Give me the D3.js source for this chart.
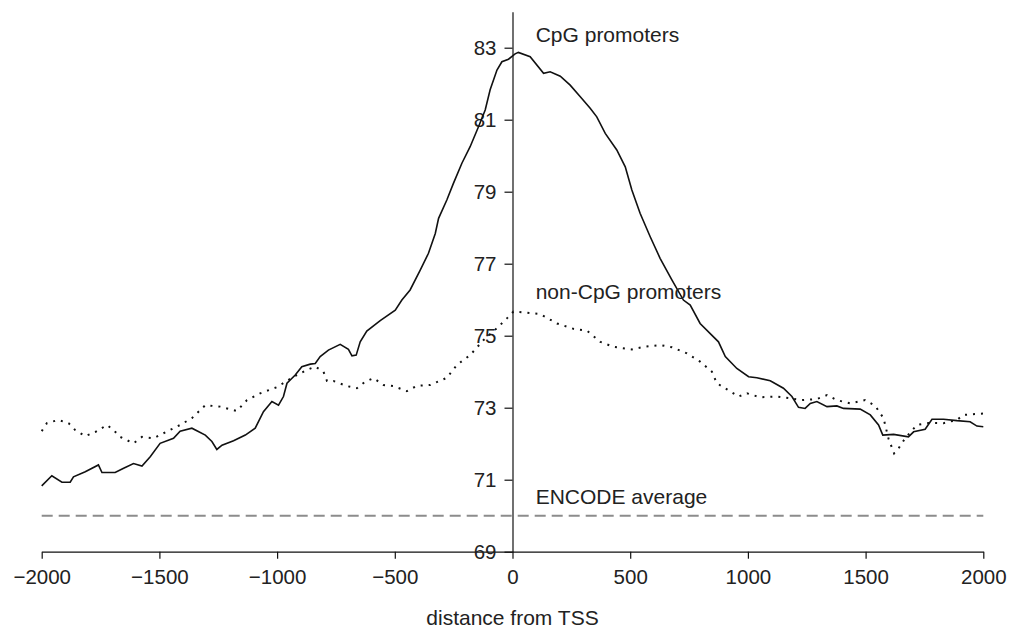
<!DOCTYPE html>
<html>
<head>
<meta charset="utf-8">
<script src="https://cdn.jsdelivr.net/npm/d3@7"></script>
<style>
  html, body { margin: 0; padding: 0; background: #fff; }
  svg { display: block; }
  text { font-family: "Liberation Sans", Arial, Helvetica, sans-serif; fill: #222; }
</style>
</head>
<body>
<svg id="chart" width="1009" height="631"></svg>
<script>
// Distance from the TSS (bp) and the average value at each position
const cpgPos = [-2000,-1957,-1914,-1879,-1865,-1815,-1759,-1744,-1688,-1652,-1610,-1574,-1539,-1497,-1440,-1412,-1362,-1305,-1277,-1256,-1234,-1185,-1135,-1093,-1058,-1022,-994,-973,-958,-923,-895,-859,-838,-817,-782,-732,-697,-682,-664,-647,-619,-562,-498,-470,-435,-392,-357,-328,-314,-279,-251,-215,-180,-144,-116,-95,-66,-45,-17,11,25,75,132,160,203,245,288,330,358,394,443,479,507,542,585,627,677,726,755,797,875,904,953,1003,1038,1095,1151,1187,1215,1243,1265,1293,1336,1378,1406,1477,1520,1555,1573,1619,1682,1704,1753,1782,1831,1888,1944,1973,2000];
const cpgVal = [70.83,71.11,70.93,70.93,71.08,71.22,71.41,71.20,71.20,71.32,71.45,71.38,71.64,72.01,72.15,72.35,72.43,72.24,72.06,71.84,71.96,72.08,72.24,72.43,72.89,73.17,73.07,73.31,73.68,73.91,74.14,74.21,74.23,74.42,74.60,74.76,74.62,74.44,74.46,74.83,75.13,75.42,75.71,75.99,76.27,76.82,77.29,77.84,78.26,78.77,79.23,79.79,80.25,80.81,81.27,81.83,82.38,82.61,82.68,82.83,82.87,82.75,82.29,82.33,82.21,81.96,81.64,81.32,81.08,80.62,80.16,79.69,79.05,78.40,77.75,77.15,76.55,75.99,75.85,75.34,74.83,74.42,74.09,73.86,73.83,73.75,73.54,73.31,73.01,72.98,73.12,73.17,73.03,73.05,72.98,72.96,72.80,72.52,72.24,72.26,72.19,72.33,72.40,72.68,72.68,72.64,72.61,72.49,72.47];

const nonCpgPos = [-2000,-1978,-1929,-1886,-1858,-1815,-1773,-1723,-1695,-1667,-1610,-1574,-1525,-1483,-1412,-1362,-1305,-1242,-1171,-1128,-1072,-1001,-930,-873,-838,-803,-788,-760,-703,-661,-626,-590,-548,-506,-449,-406,-350,-279,-236,-180,-123,-66,-24,4,61,118,189,259,316,373,429,507,557,627,677,741,797,847,868,911,960,996,1052,1123,1180,1229,1293,1336,1378,1435,1498,1541,1576,1597,1621,1640,1668,1718,1774,1831,1888,1916,2000];
const nonCpgVal = [72.35,72.57,72.66,72.57,72.38,72.21,72.32,72.52,72.38,72.19,72.01,72.19,72.15,72.29,72.52,72.71,73.07,73.03,72.91,73.21,73.40,73.57,73.86,74.05,74.14,74.00,73.74,73.74,73.60,73.54,73.72,73.82,73.63,73.60,73.46,73.61,73.63,73.83,74.19,74.46,74.88,75.21,75.48,75.67,75.64,75.60,75.34,75.19,75.14,74.83,74.69,74.62,74.69,74.74,74.68,74.51,74.28,74.00,73.68,73.51,73.31,73.40,73.29,73.31,73.26,73.21,73.24,73.35,73.21,73.12,73.21,73.05,72.71,72.15,71.73,71.87,72.15,72.52,72.58,72.57,72.66,72.80,72.84];

const encodeAverage = 70;

const xTicks = [-2000,-1500,-1000,-500,0,500,1000,1500,2000];
const yTicks = [69,71,73,75,77,79,81,83];

const svg = d3.select("#chart");

const x = d3.scaleLinear().domain([-2000, 2000]).range([41.7, 983.3]);
const y = d3.scaleLinear().domain([69, 84]).range([551.7, 11.7]);

const fmt = d => (d < 0 ? "\u2212" + Math.abs(d) : String(d));

// x axis along the bottom
const xAxis = svg.append("g")
  .attr("transform", `translate(0,${y(69)})`)
  .call(d3.axisBottom(x).tickValues(xTicks).tickFormat(fmt).tickSize(7).tickSizeOuter(0).tickPadding(11));
xAxis.selectAll("text").style("font-size", "20.5px");

// y axis crossing at the TSS
const yAxis = svg.append("g")
  .attr("transform", `translate(${x(0)},0)`)
  .call(d3.axisLeft(y).tickValues(yTicks).tickSize(8).tickSizeOuter(0).tickPadding(8));
yAxis.selectAll("text").style("font-size", "20.5px");

svg.selectAll(".domain, .tick line").attr("stroke", "#111").attr("stroke-width", 1.2);

// ENCODE average reference line
svg.append("line")
  .attr("x1", x(-2000)).attr("x2", x(2000))
  .attr("y1", y(encodeAverage)).attr("y2", y(encodeAverage))
  .attr("stroke", "#8c8c8c").attr("stroke-width", 2)
  .attr("stroke-dasharray", "11,6");

const line = d3.line().x(d => x(d[0])).y(d => y(d[1]));

const cpg = d3.zip(cpgPos, cpgVal);
const nonCpg = d3.zip(nonCpgPos, nonCpgVal);

svg.append("path")
  .datum(nonCpg)
  .attr("d", line)
  .attr("fill", "none")
  .attr("stroke", "#111")
  .attr("stroke-width", 2)
  .attr("stroke-dasharray", "2,6");

svg.append("path")
  .datum(cpg)
  .attr("d", line)
  .attr("fill", "none")
  .attr("stroke", "#111")
  .attr("stroke-width", 1.6);

// series labels
const labels = [
  { text: "CpG promoters", y: 41.5 },
  { text: "non-CpG promoters", y: 299 },
  { text: "ENCODE average", y: 504 }
];
svg.selectAll(".series-label")
  .data(labels)
  .join("text")
  .attr("class", "series-label")
  .attr("x", 535.7)
  .attr("y", d => d.y)
  .style("font-size", "21px")
  .text(d => d.text);

// axis title
svg.append("text")
  .attr("x", x(0))
  .attr("y", 625)
  .attr("text-anchor", "middle")
  .style("font-size", "21px")
  .text("distance from TSS");
</script>
</body>
</html>
